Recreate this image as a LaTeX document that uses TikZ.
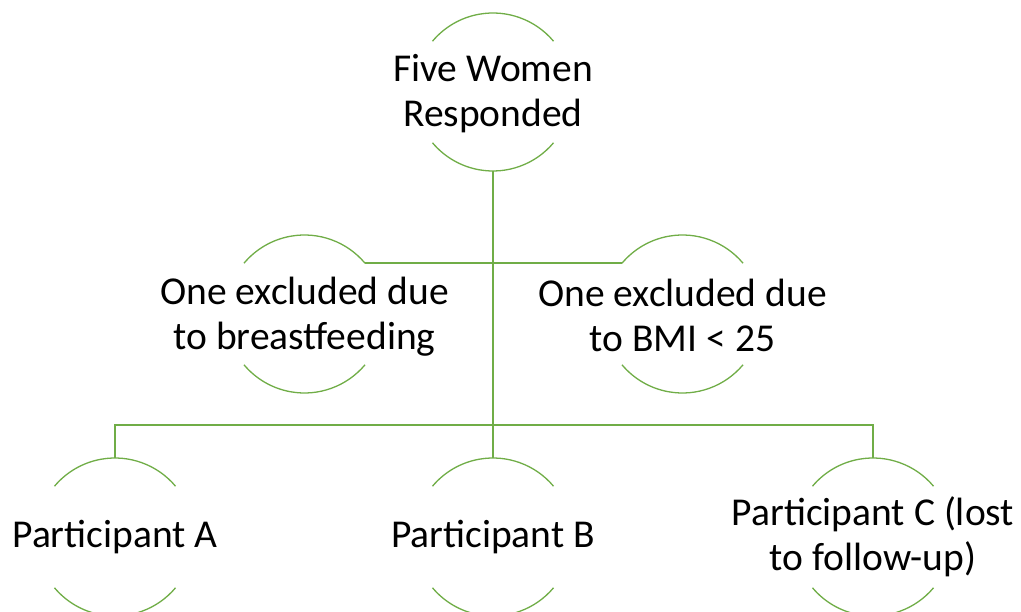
\documentclass[tikz,border=0pt]{standalone}
\usepackage{fontspec}
\setmainfont{Carlito}
\definecolor{grn}{RGB}{112,173,71}
\begin{document}
\begin{tikzpicture}[x=1pt,y=-1pt,
  lbl/.style={inner sep=0pt,align=center,font=\fontsize{39.5}{45}\selectfont},
  arcline/.style={draw=grn,line width=1.3pt},
  conn/.style={draw=grn,line width=1.6pt}]
\useasboundingbox (0,0) rectangle (1021,612);
\coordinate (top) at (493,92);
\coordinate (mL) at (304.5,314);
\coordinate (mR) at (682.5,314);
\coordinate (pA) at (115,537);
\coordinate (pB) at (493,537);
\coordinate (pC) at (873,537);
\node[lbl] (ttop) at ([yshift=-2pt]top) {Five Women\\Responded};
\node[lbl] (tmL) at ([yshift=-3pt]mL) {One excluded due\\to breastfeeding};
\node[lbl] (tmR) at ([yshift=-1pt]mR) {One excluded due\\to BMI < 25};
\node[lbl] (tpA) at (pA) {Participant A};
\node[lbl] (tpB) at (pB) {Participant B};
\node[lbl] (tpC) at (pC) {Participant C (lost\\to follow-up)};
\foreach \n in {top,mL,mR,pA,pB,pC}{
  \draw[arcline] ([shift={(40:79pt)}]\n) arc[start angle=40,end angle=140,radius=79pt];
  \draw[arcline] ([shift={(-40:79pt)}]\n) arc[start angle=-40,end angle=-140,radius=79pt];
}
\coordinate (bar) at (0,425);
\draw[conn] ([yshift=-79pt]top) -- ([yshift=79pt]pB);
\draw[conn] ([shift={(40:79pt)}]mL) -- ([shift={(140:79pt)}]mR);
\draw[conn] ([yshift=79pt]pA) -- (pA |- bar) -- (pC |- bar) -- ([yshift=79pt]pC);
\end{tikzpicture}
\end{document}
